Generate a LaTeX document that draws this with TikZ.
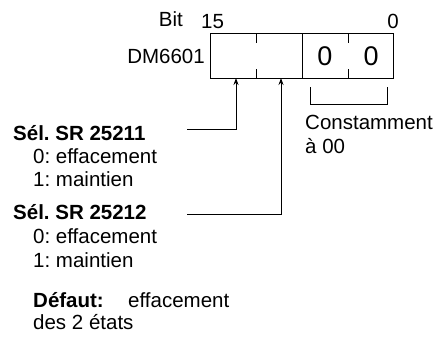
\documentclass[tikz,border=0pt]{standalone}
\usepackage{fontspec}
\setmainfont{Liberation Sans}
\usetikzlibrary{arrows.meta}
\frenchspacing
\begin{document}
\begin{tikzpicture}[x=1pt,y=-1pt,
  lbl/.style={inner sep=0pt,anchor=base west,font=\fontsize{20.5}{24}\selectfont},
  lblb/.style={lbl,font=\fontsize{20.5}{24}\selectfont\bfseries},
  dig/.style={inner sep=0pt,font=\fontsize{27}{30}\selectfont},
  ln/.style={line width=0.9pt},
  arr/.style={ln,-{Stealth[length=7pt,width=5pt]}}]
\useasboundingbox (0,0) rectangle (438,341);
% register box
\node[draw,ln,minimum width=183pt,minimum height=45pt,inner sep=0pt] (reg) at (301.5,55.5) {};
\draw[ln] (302,33) -- (302,78);
\draw[ln] (256,33) -- (256,43) (256,69) -- (256,78);
\draw[ln] (348,33) -- (348,43) (348,69) -- (348,78);
\node[dig] (d1) at (325,56) {0};
\node[dig] (d0) at (371,56) {0};
% labels
\node[lbl,anchor=base east] (bit) at (183,26) {Bit};
\node[lbl] (b15) at (201,28) {15};
\node[lbl,anchor=base] (b0) at (393,28) {0};
\node[lbl,anchor=base east] (dm) at (205,63) {DM6601};
% bracket
\coordinate (bl) at (310,87);
\coordinate (br) at (387,87);
\draw[ln] (bl) |- (387,104) -- (br);
\node[lbl] (const) at (305,129) {Constamment};
\node[lbl] (c00) at (305,153) {à 00};
% selections
\node[lblb] (s1) at (13,140) {Sél. SR 25211};
\node[lbl] (s1a) at (33,163) {0: effacement};
\node[lbl] (s1b) at (33,186) {1: maintien};
\node[lblb] (s2) at (13,219) {Sél. SR 25212};
\node[lbl] (s2a) at (33,243) {0: effacement};
\node[lbl] (s2b) at (33,267) {1: maintien};
\coordinate (l1) at (187,129);
\coordinate (a1) at (236,78);
\coordinate (l2) at (187,214);
\coordinate (a2) at (281,78);
\draw[arr] (l1) -| (a1);
\draw[arr] (l2) -| (a2);
% default
\node[lblb] (def) at (33,307) {Défaut:};
\node[lbl] (defa) at (128,307) {effacement};
\node[lbl] (defb) at (33,329) {des 2 états};
\end{tikzpicture}
\end{document}
